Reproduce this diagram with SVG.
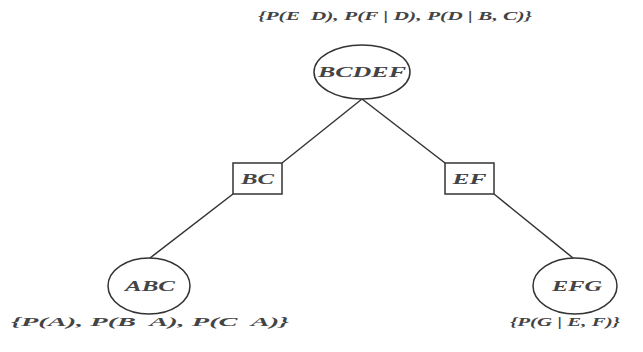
<svg xmlns="http://www.w3.org/2000/svg" width="643" height="352" viewBox="0 0 643 352">
<style>
.shape{fill:none;stroke:#333;stroke-width:1.5}
.conn{stroke:#333;stroke-width:1.5;fill:none}
.lbl{font-family:"Liberation Serif","DejaVu Serif",serif;font-style:italic;font-weight:bold;fill:#444;text-anchor:middle}
.node{font-size:15px}
.set{font-size:12px}
</style>
<rect width="643" height="352" fill="#fff"/>
<g id="connectors">
<line class="conn" x1="362" y1="99" x2="282" y2="163"/>
<line class="conn" x1="362" y1="99" x2="445" y2="163"/>
<line class="conn" x1="233" y1="194" x2="150" y2="258"/>
<line class="conn" x1="494" y1="194" x2="573" y2="258"/>
</g>
<g id="BCDEF">
<ellipse class="shape" cx="362" cy="72" rx="48" ry="27"/>
<text class="lbl node" x="362" y="77" textLength="88" lengthAdjust="spacingAndGlyphs">BCDEF</text>
<text class="lbl set" x="395" y="20" textLength="274" lengthAdjust="spacingAndGlyphs" xml:space="preserve">{P(E  D), P(F | D), P(D | B, C)}</text>
</g>
<g id="BC">
<rect class="shape" x="233" y="163" width="49" height="31"/>
<text class="lbl node" x="257.5" y="184" textLength="33" lengthAdjust="spacingAndGlyphs">BC</text>
</g>
<g id="EF">
<rect class="shape" x="445" y="163" width="49" height="31"/>
<text class="lbl node" x="469.5" y="184" textLength="34" lengthAdjust="spacingAndGlyphs">EF</text>
</g>
<g id="ABC">
<ellipse class="shape" cx="149" cy="286" rx="41" ry="28"/>
<text class="lbl node" x="150" y="291" textLength="50" lengthAdjust="spacingAndGlyphs">ABC</text>
<text class="lbl set" x="150" y="326" textLength="278" lengthAdjust="spacingAndGlyphs" xml:space="preserve">{P(A), P(B  A), P(C  A)}</text>
</g>
<g id="EFG">
<ellipse class="shape" cx="575" cy="286" rx="42" ry="28"/>
<text class="lbl node" x="577" y="291" textLength="50" lengthAdjust="spacingAndGlyphs">EFG</text>
<text class="lbl set" x="565" y="326" textLength="110" lengthAdjust="spacingAndGlyphs">{P(G | E, F)}</text>
</g>
</svg>
